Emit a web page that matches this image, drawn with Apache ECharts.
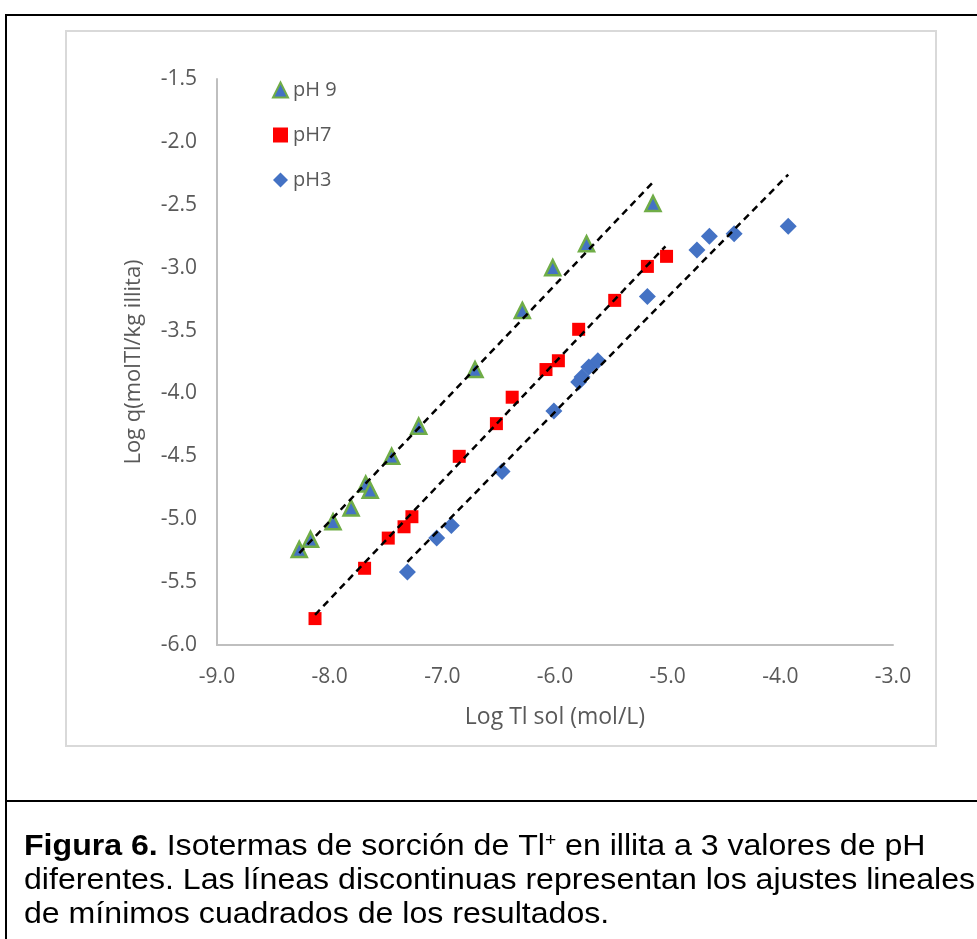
<!DOCTYPE html>
<html>
<head>
<meta charset="utf-8">
<script src="https://cdn.jsdelivr.net/npm/echarts@6/dist/echarts.min.js"></script>
<style>html,body{margin:0;padding:0;background:#fff;}#c{width:977px;height:939px;}</style>
</head>
<body>
<div id="c"></div>
<script>
// ---- data ----
const ph9X = [-8.27, -8.17, -7.97, -7.81, -7.68, -7.64, -7.45, -7.21, -6.71, -6.29, -6.02, -5.72, -5.13];
const ph9Y = [-5.24, -5.16, -5.02, -4.91, -4.72, -4.77, -4.50, -4.26, -3.81, -3.34, -3.00, -2.81, -2.49];
const ph7X = [-8.13, -7.69, -7.48, -7.34, -7.27, -6.85, -6.52, -6.38, -6.08, -5.97, -5.79, -5.47, -5.18, -5.01];
const ph7Y = [-5.79, -5.39, -5.15, -5.06, -4.98, -4.50, -4.24, -4.03, -3.81, -3.74, -3.49, -3.26, -2.99, -2.91];
const ph3X = [-7.31, -7.05, -6.92, -6.47, -6.01, -5.79, -5.76, -5.70, -5.62, -5.18, -4.74, -4.63, -4.41, -3.93];
const ph3Y = [-5.42, -5.15, -5.05, -4.62, -4.14, -3.91, -3.87, -3.79, -3.74, -3.23, -2.86, -2.75, -2.73, -2.67];
// least-squares fit lines (end points)
const fit9X = [-8.27, -5.14], fit9Y = [-5.27, -2.33];
const fit7X = [-8.13, -5.02], fit7Y = [-5.76, -2.83];
const fit3X = [-7.31, -3.93], fit3Y = [-5.34, -2.26];
const seriesNames = ['pH 9', 'pH7', 'pH3'];
const xTitle = 'Log Tl sol (mol/L)';
const yTitle = 'Log q(molTl/kg illita)';
const captionLines = [
  '{b|Figura 6.} Isotermas de sorción de Tl{s|+} en illita a 3 valores de pH',
  'diferentes. Las líneas discontinuas representan los ajustes lineales',
  'de mínimos cuadrados de los resultados.'
];

const pairs = (xs, ys) => xs.map((x, i) => [x, ys[i]]);
const font = 'Open Sans';
const gray = '#595959';
const capFont = 'Liberation Sans';

const chart = echarts.init(document.getElementById('c'), null, {renderer: 'canvas'});
const fitStyle = {color: '#000', width: 2.5, type: [7, 5]};
const captionGraphics = captionLines.map((t, i) => ({
  type: 'text', x: 24, y: 832 + i * 34, scaleX: 1.07, scaleY: 1,
  style: {
    x: 0, y: 0, verticalAlign: 'top', align: 'left',
    text: t, fontSize: 30, fontFamily: capFont, fill: '#000',
    rich: {
      b: {fontWeight: 'bold', fontSize: 30, fontFamily: capFont, fill: '#000'},
      s: {fontSize: 18, fontFamily: capFont, verticalAlign: 'top', lineHeight: 24, fill: '#000'}
    }
  }
}));
chart.setOption({
  animation: false,
  backgroundColor: '#fff',
  grid: {left: 217, right: 84, top: 79, bottom: 294},
  legend: {
    data: seriesNames,
    orient: 'vertical',
    left: 267, top: 75,
    itemWidth: 15, itemHeight: 15, itemGap: 25,
    textStyle: {fontFamily: font, fontSize: 20, color: gray}
  },
  xAxis: {
    type: 'value', min: -9, max: -3, interval: 1,
    name: xTitle, nameLocation: 'middle', nameGap: 61,
    nameTextStyle: {fontFamily: font, fontSize: 23, color: gray},
    axisLine: {show: true, onZero: false, lineStyle: {color: '#bfbfbf', width: 2}},
    axisTick: {show: false},
    splitLine: {show: false},
    axisLabel: {fontFamily: font, fontSize: 21, color: gray, margin: 22, formatter: v => v.toFixed(1)}
  },
  yAxis: {
    type: 'value', min: -6, max: -1.5, interval: 0.5,
    name: yTitle, nameLocation: 'middle', nameGap: 72, nameRotate: 90,
    nameTextStyle: {fontFamily: font, fontSize: 22, color: gray},
    axisLine: {show: true, onZero: false, lineStyle: {color: '#bfbfbf', width: 2}},
    axisTick: {show: false},
    splitLine: {show: false},
    axisLabel: {fontFamily: font, fontSize: 21, color: gray, margin: 20, formatter: v => v.toFixed(1)}
  },
  series: [
    {name: seriesNames[0], type: 'scatter', data: pairs(ph9X, ph9Y), symbol: 'triangle', symbolSize: 15,
      itemStyle: {color: '#4472c4', borderColor: '#70ad47', borderWidth: 2.5, opacity: 1}, z: 2},
    {name: seriesNames[1], type: 'scatter', data: pairs(ph7X, ph7Y), symbol: 'rect', symbolSize: 13,
      itemStyle: {color: '#ff0000', opacity: 1}, z: 2},
    {name: seriesNames[2], type: 'scatter', data: pairs(ph3X, ph3Y), symbol: 'diamond', symbolSize: 17,
      itemStyle: {color: '#4472c4', opacity: 1}, z: 2},
    {type: 'line', data: pairs(fit9X, fit9Y), symbol: 'none', lineStyle: fitStyle, z: 5, silent: true},
    {type: 'line', data: pairs(fit7X, fit7Y), symbol: 'none', lineStyle: fitStyle, z: 5, silent: true},
    {type: 'line', data: pairs(fit3X, fit3Y), symbol: 'none', lineStyle: fitStyle, z: 5, silent: true}
  ],
  graphic: [
    {type: 'rect', shape: {x: 66, y: 31, width: 870, height: 715}, style: {fill: 'none', stroke: '#d9d9d9', lineWidth: 2}, z: -1},
    {type: 'line', shape: {x1: 5, y1: 15, x2: 977, y2: 15}, style: {stroke: '#000', lineWidth: 2}},
    {type: 'line', shape: {x1: 6, y1: 14, x2: 6, y2: 939}, style: {stroke: '#000', lineWidth: 2}},
    {type: 'line', shape: {x1: 5, y1: 801, x2: 977, y2: 801}, style: {stroke: '#000', lineWidth: 2}}
  ].concat(captionGraphics)
});
</script>
</body>
</html>
